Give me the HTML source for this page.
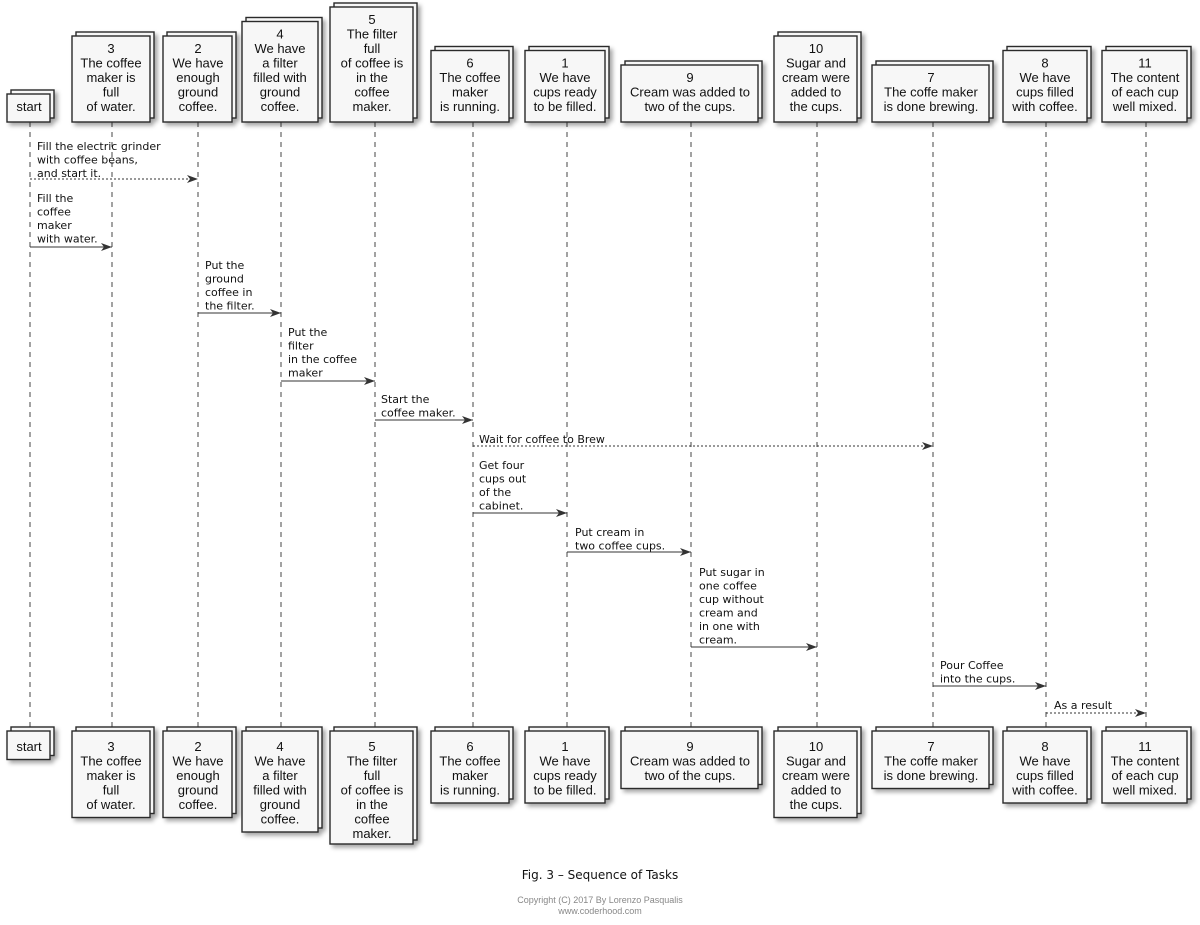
<!DOCTYPE html>
<html><head><meta charset="utf-8"><style>
html,body{margin:0;padding:0;background:#fff;}
svg{display:block;font-family:"Liberation Sans",sans-serif;}
.b{fill:#f7f7f7;stroke:#2a2a2a;stroke-width:1.4;}
.bt{font-size:13px;fill:#111;text-anchor:middle;}
.m{font-size:11px;fill:#111;font-family:"DejaVu Sans",sans-serif;}
.ll{stroke:#444;stroke-width:1;stroke-dasharray:5,5;}
.a{stroke:#333;stroke-width:1.1;fill:none;}
.d{stroke-dasharray:2,2;}
</style></head><body>
<svg width="1200" height="925" viewBox="0 0 1200 925" xmlns="http://www.w3.org/2000/svg">
<defs>
<filter id="sh" x="-20%" y="-20%" width="150%" height="150%"><feDropShadow dx="3" dy="3" stdDeviation="2" flood-color="#000" flood-opacity="0.35"/></filter>
<marker id="ar" markerWidth="12" markerHeight="10" refX="11" refY="4" orient="auto" markerUnits="userSpaceOnUse"><path d="M0,0 L11,4 L0,8 L3,4 Z" fill="#333"/></marker>
</defs>

<g class="ll">
<line x1="30" y1="122" x2="30" y2="731"/><line x1="112" y1="122" x2="112" y2="731"/>
<line x1="198" y1="122" x2="198" y2="731"/><line x1="281" y1="122" x2="281" y2="731"/>
<line x1="375" y1="122" x2="375" y2="731"/><line x1="473" y1="122" x2="473" y2="731"/>
<line x1="567" y1="122" x2="567" y2="731"/><line x1="691" y1="122" x2="691" y2="731"/>
<line x1="817" y1="122" x2="817" y2="731"/><line x1="933" y1="122" x2="933" y2="731"/>
<line x1="1046" y1="122" x2="1046" y2="731"/><line x1="1146" y1="122" x2="1146" y2="731"/>
</g>

<g filter="url(#sh)">
<rect class="b" x="11" y="90" width="43" height="28"/><rect class="b" x="7" y="94" width="43" height="28"/>
<rect class="b" x="76" y="32" width="78" height="86"/><rect class="b" x="72" y="36" width="78" height="86"/>
<rect class="b" x="167" y="32" width="69" height="86"/><rect class="b" x="163" y="36" width="69" height="86"/>
<rect class="b" x="246" y="17.5" width="76" height="100.5"/><rect class="b" x="242" y="21.5" width="76" height="100.5"/>
<rect class="b" x="334" y="3" width="83" height="115"/><rect class="b" x="330" y="7" width="83" height="115"/>
<rect class="b" x="435" y="46.5" width="78" height="71.5"/><rect class="b" x="431" y="50.5" width="78" height="71.5"/>
<rect class="b" x="529" y="46.5" width="80" height="71.5"/><rect class="b" x="525" y="50.5" width="80" height="71.5"/>
<rect class="b" x="625" y="61" width="137" height="57"/><rect class="b" x="621" y="65" width="137" height="57"/>
<rect class="b" x="778" y="32" width="83" height="86"/><rect class="b" x="774" y="36" width="83" height="86"/>
<rect class="b" x="876" y="61" width="117" height="57"/><rect class="b" x="872" y="65" width="117" height="57"/>
<rect class="b" x="1007" y="46.5" width="84" height="71.5"/><rect class="b" x="1003" y="50.5" width="84" height="71.5"/>
<rect class="b" x="1106" y="46.5" width="85" height="71.5"/><rect class="b" x="1102" y="50.5" width="85" height="71.5"/>
</g>
<g filter="url(#sh)">
<rect class="b" x="11" y="727" width="43" height="28.5"/><rect class="b" x="7" y="731" width="43" height="28.5"/>
<rect class="b" x="76" y="727" width="78" height="86.5"/><rect class="b" x="72" y="731" width="78" height="86.5"/>
<rect class="b" x="167" y="727" width="69" height="86.5"/><rect class="b" x="163" y="731" width="69" height="86.5"/>
<rect class="b" x="246" y="727" width="76" height="101"/><rect class="b" x="242" y="731" width="76" height="101"/>
<rect class="b" x="334" y="727" width="83" height="113"/><rect class="b" x="330" y="731" width="83" height="113"/>
<rect class="b" x="435" y="727" width="78" height="72"/><rect class="b" x="431" y="731" width="78" height="72"/>
<rect class="b" x="529" y="727" width="80" height="72"/><rect class="b" x="525" y="731" width="80" height="72"/>
<rect class="b" x="625" y="727" width="137" height="57.5"/><rect class="b" x="621" y="731" width="137" height="57.5"/>
<rect class="b" x="778" y="727" width="83" height="86.5"/><rect class="b" x="774" y="731" width="83" height="86.5"/>
<rect class="b" x="876" y="727" width="117" height="57.5"/><rect class="b" x="872" y="731" width="117" height="57.5"/>
<rect class="b" x="1007" y="727" width="84" height="72"/><rect class="b" x="1003" y="731" width="84" height="72"/>
<rect class="b" x="1106" y="727" width="85" height="72"/><rect class="b" x="1102" y="731" width="85" height="72"/>
</g>

<g class="bt">
<text x="29" y="111">start</text>
<text x="111" y="53"><tspan x="111">3</tspan><tspan x="111" dy="14.5">The coffee</tspan><tspan x="111" dy="14.5">maker is</tspan><tspan x="111" dy="14.5">full</tspan><tspan x="111" dy="14.5">of water.</tspan></text>
<text x="198" y="53"><tspan x="198">2</tspan><tspan x="198" dy="14.5">We have</tspan><tspan x="198" dy="14.5">enough</tspan><tspan x="198" dy="14.5">ground</tspan><tspan x="198" dy="14.5">coffee.</tspan></text>
<text x="280" y="38.5"><tspan x="280">4</tspan><tspan x="280" dy="14.5">We have</tspan><tspan x="280" dy="14.5">a filter</tspan><tspan x="280" dy="14.5">filled with</tspan><tspan x="280" dy="14.5">ground</tspan><tspan x="280" dy="14.5">coffee.</tspan></text>
<text x="372" y="24"><tspan x="372">5</tspan><tspan x="372" dy="14.5">The filter</tspan><tspan x="372" dy="14.5">full</tspan><tspan x="372" dy="14.5">of coffee is</tspan><tspan x="372" dy="14.5">in the</tspan><tspan x="372" dy="14.5">coffee</tspan><tspan x="372" dy="14.5">maker.</tspan></text>
<text x="470" y="67.5"><tspan x="470">6</tspan><tspan x="470" dy="14.5">The coffee</tspan><tspan x="470" dy="14.5">maker</tspan><tspan x="470" dy="14.5">is running.</tspan></text>
<text x="565" y="67.5"><tspan x="565">1</tspan><tspan x="565" dy="14.5">We have</tspan><tspan x="565" dy="14.5">cups ready</tspan><tspan x="565" dy="14.5">to be filled.</tspan></text>
<text x="690" y="82"><tspan x="690">9</tspan><tspan x="690" dy="14.5">Cream was added to</tspan><tspan x="690" dy="14.5">two of the cups.</tspan></text>
<text x="816" y="53"><tspan x="816">10</tspan><tspan x="816" dy="14.5">Sugar and</tspan><tspan x="816" dy="14.5">cream were</tspan><tspan x="816" dy="14.5">added to</tspan><tspan x="816" dy="14.5">the cups.</tspan></text>
<text x="931" y="82"><tspan x="931">7</tspan><tspan x="931" dy="14.5">The coffe maker</tspan><tspan x="931" dy="14.5">is done brewing.</tspan></text>
<text x="1045" y="67.5"><tspan x="1045">8</tspan><tspan x="1045" dy="14.5">We have</tspan><tspan x="1045" dy="14.5">cups filled</tspan><tspan x="1045" dy="14.5">with coffee.</tspan></text>
<text x="1145" y="67.5"><tspan x="1145">11</tspan><tspan x="1145" dy="14.5">The content</tspan><tspan x="1145" dy="14.5">of each cup</tspan><tspan x="1145" dy="14.5">well mixed.</tspan></text>
</g>

<g class="bt">
<text x="29" y="751">start</text>
<text x="111" y="751"><tspan x="111">3</tspan><tspan x="111" dy="14.5">The coffee</tspan><tspan x="111" dy="14.5">maker is</tspan><tspan x="111" dy="14.5">full</tspan><tspan x="111" dy="14.5">of water.</tspan></text>
<text x="198" y="751"><tspan x="198">2</tspan><tspan x="198" dy="14.5">We have</tspan><tspan x="198" dy="14.5">enough</tspan><tspan x="198" dy="14.5">ground</tspan><tspan x="198" dy="14.5">coffee.</tspan></text>
<text x="280" y="751"><tspan x="280">4</tspan><tspan x="280" dy="14.5">We have</tspan><tspan x="280" dy="14.5">a filter</tspan><tspan x="280" dy="14.5">filled with</tspan><tspan x="280" dy="14.5">ground</tspan><tspan x="280" dy="14.5">coffee.</tspan></text>
<text x="372" y="751"><tspan x="372">5</tspan><tspan x="372" dy="14.5">The filter</tspan><tspan x="372" dy="14.5">full</tspan><tspan x="372" dy="14.5">of coffee is</tspan><tspan x="372" dy="14.5">in the</tspan><tspan x="372" dy="14.5">coffee</tspan><tspan x="372" dy="14.5">maker.</tspan></text>
<text x="470" y="751"><tspan x="470">6</tspan><tspan x="470" dy="14.5">The coffee</tspan><tspan x="470" dy="14.5">maker</tspan><tspan x="470" dy="14.5">is running.</tspan></text>
<text x="565" y="751"><tspan x="565">1</tspan><tspan x="565" dy="14.5">We have</tspan><tspan x="565" dy="14.5">cups ready</tspan><tspan x="565" dy="14.5">to be filled.</tspan></text>
<text x="690" y="751"><tspan x="690">9</tspan><tspan x="690" dy="14.5">Cream was added to</tspan><tspan x="690" dy="14.5">two of the cups.</tspan></text>
<text x="816" y="751"><tspan x="816">10</tspan><tspan x="816" dy="14.5">Sugar and</tspan><tspan x="816" dy="14.5">cream were</tspan><tspan x="816" dy="14.5">added to</tspan><tspan x="816" dy="14.5">the cups.</tspan></text>
<text x="931" y="751"><tspan x="931">7</tspan><tspan x="931" dy="14.5">The coffe maker</tspan><tspan x="931" dy="14.5">is done brewing.</tspan></text>
<text x="1045" y="751"><tspan x="1045">8</tspan><tspan x="1045" dy="14.5">We have</tspan><tspan x="1045" dy="14.5">cups filled</tspan><tspan x="1045" dy="14.5">with coffee.</tspan></text>
<text x="1145" y="751"><tspan x="1145">11</tspan><tspan x="1145" dy="14.5">The content</tspan><tspan x="1145" dy="14.5">of each cup</tspan><tspan x="1145" dy="14.5">well mixed.</tspan></text>
</g>

<g class="a">
<line class="d" x1="30" y1="179" x2="198" y2="179" marker-end="url(#ar)"/>
<line x1="30" y1="247" x2="112" y2="247" marker-end="url(#ar)"/>
<line x1="198" y1="313" x2="281" y2="313" marker-end="url(#ar)"/>
<line x1="281" y1="381" x2="375" y2="381" marker-end="url(#ar)"/>
<line x1="375" y1="420" x2="473" y2="420" marker-end="url(#ar)"/>
<line class="d" x1="473" y1="446" x2="933" y2="446" marker-end="url(#ar)"/>
<line x1="473" y1="513" x2="567" y2="513" marker-end="url(#ar)"/>
<line x1="567" y1="552" x2="691" y2="552" marker-end="url(#ar)"/>
<line x1="691" y1="647" x2="817" y2="647" marker-end="url(#ar)"/>
<line x1="933" y1="686" x2="1046" y2="686" marker-end="url(#ar)"/>
<line class="d" x1="1046" y1="713" x2="1146" y2="713" marker-end="url(#ar)"/>
</g>

<g class="m">
<text x="37" y="150"><tspan x="37">Fill the electric grinder</tspan><tspan x="37" dy="13.5">with coffee beans,</tspan><tspan x="37" dy="13.5">and start it.</tspan></text>
<text x="37" y="202"><tspan x="37">Fill the</tspan><tspan x="37" dy="13.5">coffee</tspan><tspan x="37" dy="13.5">maker</tspan><tspan x="37" dy="13.5">with water.</tspan></text>
<text x="205" y="269"><tspan x="205">Put the</tspan><tspan x="205" dy="13.5">ground</tspan><tspan x="205" dy="13.5">coffee in</tspan><tspan x="205" dy="13.5">the filter.</tspan></text>
<text x="288" y="336"><tspan x="288">Put the</tspan><tspan x="288" dy="13.5">filter</tspan><tspan x="288" dy="13.5">in the coffee</tspan><tspan x="288" dy="13.5">maker</tspan></text>
<text x="381" y="403"><tspan x="381">Start the</tspan><tspan x="381" dy="13.5">coffee maker.</tspan></text>
<text x="479" y="443">Wait for coffee to Brew</text>
<text x="479" y="469"><tspan x="479">Get four</tspan><tspan x="479" dy="13.5">cups out</tspan><tspan x="479" dy="13.5">of the</tspan><tspan x="479" dy="13.5">cabinet.</tspan></text>
<text x="575" y="536"><tspan x="575">Put cream in</tspan><tspan x="575" dy="13.5">two coffee cups.</tspan></text>
<text x="699" y="576"><tspan x="699">Put sugar in</tspan><tspan x="699" dy="13.5">one coffee</tspan><tspan x="699" dy="13.5">cup without</tspan><tspan x="699" dy="13.5">cream and</tspan><tspan x="699" dy="13.5">in one with</tspan><tspan x="699" dy="13.5">cream.</tspan></text>
<text x="940" y="669"><tspan x="940">Pour Coffee</tspan><tspan x="940" dy="13.5">into the cups.</tspan></text>
<text x="1054" y="709">As a result</text>
</g>

<text x="600" y="879" text-anchor="middle" style="font-size:12px;fill:#111;font-family:'DejaVu Sans',sans-serif">Fig. 3 – Sequence of Tasks</text>
<text x="600" y="903" text-anchor="middle" style="font-size:9px;fill:#888">Copyright (C) 2017 By Lorenzo Pasqualis</text>
<text x="600" y="914" text-anchor="middle" style="font-size:9px;fill:#888">www.coderhood.com</text>
</svg>
</body></html>
